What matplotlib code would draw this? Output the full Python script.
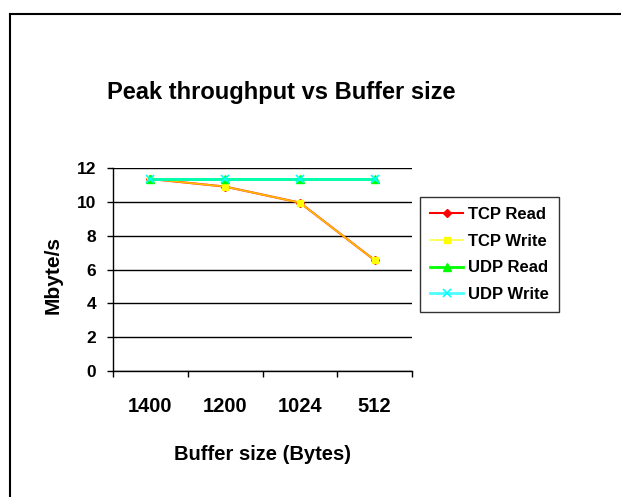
import matplotlib
matplotlib.use("Agg")
import matplotlib.pyplot as plt
from matplotlib.lines import Line2D

plt.rcParams['font.family'] = ['Liberation Sans', 'DejaVu Sans']
plt.rcParams['font.weight'] = 'bold'

# data
buffer_sizes = ['1400', '1200', '1024', '512']
tcp_read = [11.35, 10.9, 9.95, 6.55]
tcp_write = [11.35, 10.9, 9.95, 6.55]
udp_read = [11.35, 11.35, 11.35, 11.35]
udp_write = [11.35, 11.35, 11.35, 11.35]
y_ticks = [0, 2, 4, 6, 8, 10, 12]

W, H = 621, 497
fig = plt.figure(figsize=(W / 100, H / 100), dpi=100)
ax = fig.add_axes([113 / W, 1 - 371 / H, (412 - 113) / W, (371 - 168) / H])

x = [i + 0.5 for i in range(len(buffer_sizes))]

ax.plot(x, tcp_read, color='red', lw=1.5, marker='D', ms=4.5,
        mfc='red', mec='red', label='TCP Read')
ax.plot(x, tcp_write, color=(1, 1, 0, 0.75), lw=1.2, marker='s', ms=5,
        mfc='yellow', mec='yellow', label='TCP Write')
ax.plot(x, udp_read, color='#00ff00', lw=2, marker='^', ms=6,
        mfc='#00ff00', mec='#00ff00', label='UDP Read')
ax.plot(x, udp_write, color=(0, 1, 1, 0.7), lw=2, marker='x', ms=6,
        mew=1.2, mfc='cyan', mec='cyan', label='UDP Write')

ax.set_xlim(0, len(buffer_sizes))
ax.set_ylim(0, 12)
ax.set_xticks(range(len(buffer_sizes) + 1))
ax.set_xticklabels([])
ax.set_xticks(x, minor=True)
ax.set_xticklabels(buffer_sizes, minor=True)
ax.tick_params(axis='x', which='major', direction='out', length=4, width=1, color='black')
ax.tick_params(axis='x', which='minor', length=0, pad=19, labelsize=14.5)
ax.set_yticks(y_ticks)
ax.tick_params(axis='y', direction='out', length=4, width=1, pad=8, labelsize=12.5)

ax.yaxis.grid(True, color='black', lw=1)
for s in ['top', 'right']:
    ax.spines[s].set_visible(False)
for s in ['left', 'bottom']:
    ax.spines[s].set_color('black')
    ax.spines[s].set_linewidth(1)

fig.text(281 / W, 1 - 93 / H, 'Peak throughput vs Buffer size',
         ha='center', va='center', fontsize=17, fontweight='bold')
fig.text(262 / W, 1 - 455 / H, 'Buffer size (Bytes)',
         ha='center', va='center', fontsize=14.5, fontweight='bold')
fig.text(53 / W, 1 - 275 / H, 'Mbyte/s', rotation=90,
         ha='center', va='center', fontsize=15, fontweight='bold')

leg = fig.legend(loc='upper left', bbox_to_anchor=(420 / W, 1 - 197 / H),
                 bbox_transform=fig.transFigure, borderaxespad=0,
                 fontsize=12, frameon=True, fancybox=False, shadow=False,
                 handlelength=2.0, handletextpad=0.3, labelspacing=0.7,
                 borderpad=0.6)
leg.get_frame().set_edgecolor('black')
leg.get_frame().set_linewidth(1)

# outer chart frame (only top and left are visible in the picture)
fig.add_artist(Line2D([10 / W, 1], [1 - 14 / H, 1 - 14 / H],
                      transform=fig.transFigure, color='black', lw=1.5))
fig.add_artist(Line2D([10 / W, 10 / W], [0, 1 - 14 / H],
                      transform=fig.transFigure, color='black', lw=1.5))

fig.savefig('out.png', dpi=100)
